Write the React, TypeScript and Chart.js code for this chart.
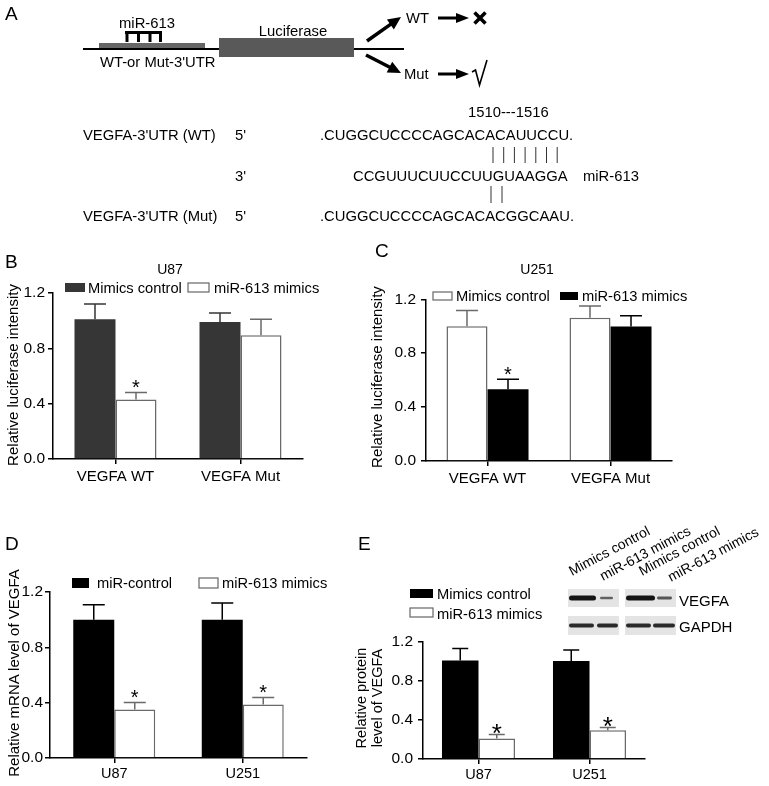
import React, { useEffect, useRef } from 'react';
import { Chart, registerables } from 'chart.js';

Chart.register(...registerables);

const FONT = "'Liberation Sans', Arial, Helvetica, sans-serif";

// ---------- Data ----------
// Panel B (U87 luciferase)
const bCategories = ['VEGFA WT', 'VEGFA Mut'];
const bSeriesNames = ['Mimics control', 'miR-613 mimics'];
const bControlValues = [1.01, 0.99];
const bControlErrors = [0.11, 0.065];
const bMimicsValues = [0.43, 0.895];
const bMimicsErrors = [0.05, 0.115];
const bMimicsMarks = ['*', ''];
const bTitle = 'U87';

// Panel C (U251 luciferase)
const cCategories = ['VEGFA WT', 'VEGFA Mut'];
const cSeriesNames = ['Mimics control', 'miR-613 mimics'];
const cControlValues = [1.0, 1.063];
const cControlErrors = [0.117, 0.088];
const cMimicsValues = [0.532, 0.999];
const cMimicsErrors = [0.074, 0.078];
const cMimicsMarks = ['*', ''];
const cTitle = 'U251';

const luciferaseYTitle = 'Relative luciferase intensity';

// Panel D (mRNA)
const dCategories = ['U87', 'U251'];
const dSeriesNames = ['miR-control', 'miR-613 mimics'];
const dControlValues = [1.0, 1.0];
const dControlErrors = [0.108, 0.12];
const dMimicsValues = [0.351, 0.387];
const dMimicsErrors = [0.051, 0.051];
const dMimicsMarks = ['*', '*'];
const dYTitle = 'Relative mRNA level of VEGFA';

// Panel E (protein)
const eCategories = ['U87', 'U251'];
const eSeriesNames = ['Mimics control', 'miR-613 mimics'];
const eControlValues = [1.005, 1.0];
const eControlErrors = [0.121, 0.112];
const eMimicsValues = [0.209, 0.292];
const eMimicsErrors = [0.04, 0.028];
const eMimicsMarks = ['*', '*'];
const eYTitle = ['Relative protein', 'level of VEGFA'];

const yTickValues = [0, 0.4, 0.8, 1.2];
const noMarks = ['', ''];

// Blot
const blotLanes = ['Mimics control', 'miR-613 mimics', 'Mimics control', 'miR-613 mimics'];
const blotRows = ['VEGFA', 'GAPDH'];
const vegfaBands = [1.0, 0.3, 1.0, 0.4];
const gapdhBands = [0.8, 0.8, 0.8, 0.8];

// Panel A sequences
const wtLabel = "VEGFA-3'UTR (WT)";
const mutLabel = "VEGFA-3'UTR (Mut)";
const wtSeq = '.CUGGCUCCCCAGCACACAUUCCU.';
const mirSeq = 'CCGUUUCUUCCUUGUAAGGA';
const mutSeq = '.CUGGCUCCCCAGCACACGGCAAU.';
const siteLabel = '1510---1516';

// ---------- Plugin ----------
const errorBarsPlugin = {
  id: 'errorBars',
  afterDatasetsDraw(chart: any, _a: any, opts: any) {
    const { ctx } = chart;
    const yScale = chart.scales.y;
    chart.data.datasets.forEach((ds: any, i: number) => {
      const meta = chart.getDatasetMeta(i);
      meta.data.forEach((bar: any, j: number) => {
        const v = ds.data[j];
        const e = ds.errors[j];
        const yTop = yScale.getPixelForValue(v + e);
        const x = bar.x;
        ctx.save();
        ctx.strokeStyle = ds.errorColor;
        ctx.lineWidth = 1.5;
        ctx.beginPath();
        ctx.moveTo(x, bar.y);
        ctx.lineTo(x, yTop);
        ctx.moveTo(x - opts.cap, yTop);
        ctx.lineTo(x + opts.cap, yTop);
        ctx.stroke();
        const m = ds.marks[j];
        if (m) {
          ctx.fillStyle = '#000';
          ctx.font = `${opts.starSize}px ${FONT}`;
          ctx.textAlign = 'center';
          ctx.textBaseline = 'alphabetic';
          ctx.fillText(m, x, yTop + opts.starDrop);
        }
        ctx.restore();
      });
    });
  },
};

type Series = {
  name: string;
  values: number[];
  errors: number[];
  marks: string[];
  fill: string;
  border: string;
  borderWidth: number;
  errColor: string;
};

type BarProps = {
  left: number;
  top: number;
  width: number;
  height: number;
  padTop: number;
  padRight: number;
  yAxisWidth: number;
  xAxisHeight: number;
  categories: string[];
  series: Series[];
  catPct: number;
  yTickPad: number;
  xTickPad: number;
  cap: number;
  starSize: number;
  starDrop: number;
  xFont: number;
};

function BarChart(p: BarProps) {
  const ref = useRef<HTMLCanvasElement>(null);
  useEffect(() => {
    const axisGrid = {
      display: true,
      drawOnChartArea: false,
      drawTicks: true,
      tickLength: 5,
      color: '#000',
      lineWidth: 1.5,
    };
    const chart = new Chart(ref.current as HTMLCanvasElement, {
      type: 'bar',
      data: {
        labels: p.categories,
        datasets: p.series.map((s) => ({
          label: s.name,
          data: s.values,
          errors: s.errors,
          marks: s.marks,
          errorColor: s.errColor,
          backgroundColor: s.fill,
          borderColor: s.border,
          borderWidth: s.borderWidth,
          categoryPercentage: p.catPct,
          barPercentage: 1.0,
        })) as any,
      },
      options: {
        animation: false,
        responsive: false,
        maintainAspectRatio: false,
        layout: { padding: { left: 0, top: p.padTop, right: p.padRight, bottom: 0 } },
        plugins: {
          legend: { display: false },
          tooltip: { enabled: false },
          title: { display: false },
          errorBars: { cap: p.cap, starSize: p.starSize, starDrop: p.starDrop },
        } as any,
        scales: {
          x: {
            type: 'category',
            offset: true,
            grid: { ...axisGrid, offset: false },
            border: { display: true, color: '#000', width: 1.5 },
            ticks: {
              color: '#000',
              font: { family: FONT, size: p.xFont },
              padding: p.xTickPad,
              maxRotation: 0,
              autoSkip: false,
            },
            afterFit: (s: any) => {
              s.height = p.xAxisHeight;
            },
          },
          y: {
            min: 0,
            max: 1.2,
            afterBuildTicks: (s: any) => {
              s.ticks = yTickValues.map((v) => ({ value: v }));
            },
            grid: axisGrid,
            border: { display: true, color: '#000', width: 1.5 },
            ticks: {
              color: '#000',
              font: { family: FONT, size: 15.5 },
              padding: p.yTickPad,
              callback: (v: any) => Number(v).toFixed(1),
            },
            afterFit: (s: any) => {
              s.width = p.yAxisWidth;
            },
          },
        } as any,
      },
      plugins: [errorBarsPlugin as any],
    });
    return () => chart.destroy();
  }, []);
  return (
    <canvas
      ref={ref}
      width={p.width}
      height={p.height}
      style={{ position: 'absolute', left: p.left, top: p.top, width: p.width, height: p.height }}
    />
  );
}

// ---------- SVG helpers ----------
function Arrow({ x1, y1, x2, y2, head, half, w }: any) {
  const dx = x2 - x1;
  const dy = y2 - y1;
  const L = Math.hypot(dx, dy);
  const ux = dx / L;
  const uy = dy / L;
  const bx = x2 - ux * head;
  const by = y2 - uy * head;
  const px = -uy;
  const py = ux;
  return (
    <g>
      <line x1={x1} y1={y1} x2={bx + ux} y2={by + uy} stroke="#000" strokeWidth={w} />
      <polygon
        points={`${x2},${y2} ${bx + px * half},${by + py * half} ${bx - px * half},${by - py * half}`}
        fill="#000"
      />
    </g>
  );
}

function T({ x, y, children, size = 14.7, anchor = 'start', weight = 'normal' }: any) {
  return (
    <text x={x} y={y} fontSize={size} textAnchor={anchor} dominantBaseline="central" fontWeight={weight}>
      {children}
    </text>
  );
}

function LegendBox({ x, y, w, h, fill }: any) {
  const white = fill === '#fff';
  return (
    <rect
      x={x}
      y={y}
      width={w}
      height={h}
      fill={fill}
      stroke={white ? '#666' : 'none'}
      strokeWidth={white ? 1.2 : 0}
    />
  );
}

const DARK_B = '#363636';
const GRAY_BORDER = '#6a6a6a';

export default function App() {
  const bSeries: Series[] = [
    { name: bSeriesNames[0], values: bControlValues, errors: bControlErrors, marks: noMarks, fill: DARK_B, border: DARK_B, borderWidth: 0, errColor: DARK_B },
    { name: bSeriesNames[1], values: bMimicsValues, errors: bMimicsErrors, marks: bMimicsMarks, fill: '#fff', border: GRAY_BORDER, borderWidth: 1.5, errColor: GRAY_BORDER },
  ];
  const cSeries: Series[] = [
    { name: cSeriesNames[0], values: cControlValues, errors: cControlErrors, marks: noMarks, fill: '#fff', border: GRAY_BORDER, borderWidth: 1.5, errColor: GRAY_BORDER },
    { name: cSeriesNames[1], values: cMimicsValues, errors: cMimicsErrors, marks: cMimicsMarks, fill: '#000', border: '#000', borderWidth: 0, errColor: '#000' },
  ];
  const dSeries: Series[] = [
    { name: dSeriesNames[0], values: dControlValues, errors: dControlErrors, marks: noMarks, fill: '#000', border: '#000', borderWidth: 0, errColor: '#000' },
    { name: dSeriesNames[1], values: dMimicsValues, errors: dMimicsErrors, marks: dMimicsMarks, fill: '#fff', border: GRAY_BORDER, borderWidth: 1.5, errColor: GRAY_BORDER },
  ];
  const eSeries: Series[] = [
    { name: eSeriesNames[0], values: eControlValues, errors: eControlErrors, marks: noMarks, fill: '#000', border: '#000', borderWidth: 0, errColor: '#000' },
    { name: eSeriesNames[1], values: eMimicsValues, errors: eMimicsErrors, marks: eMimicsMarks, fill: '#fff', border: GRAY_BORDER, borderWidth: 1.5, errColor: GRAY_BORDER },
  ];

  const blotLaneX = [[569, 596], [600, 613], [626, 655], [657, 672]];
  const gapdhLaneX = [[569, 594], [597, 618], [626, 651], [653, 675]];
  const laneLabelPos = [[572, 576], [603, 581], [642, 576], [671, 582]];

  return (
    <div style={{ position: 'absolute', left: 0, top: 0, width: 769, height: 786, background: '#fff', overflow: 'hidden' }}>
      <BarChart
        left={3} top={280} width={305} height={209} padTop={13} padRight={5}
        yAxisWidth={50} xAxisHeight={30} categories={bCategories} series={bSeries}
        catPct={0.656} yTickPad={3} xTickPad={4} cap={11} starSize={20} starDrop={1.5} xFont={15}
      />
      <BarChart
        left={367} top={285} width={310} height={206} padTop={13} padRight={5}
        yAxisWidth={59} xAxisHeight={30} categories={cCategories} series={cSeries}
        catPct={0.667} yTickPad={5} xTickPad={4} cap={11} starSize={20} starDrop={1.5} xFont={15}
      />
      <BarChart
        left={4} top={579} width={308} height={204} padTop={13} padRight={5}
        yAxisWidth={46} xAxisHeight={25} categories={dCategories} series={dSeries}
        catPct={0.638} yTickPad={2} xTickPad={2} cap={11} starSize={20} starDrop={1.5} xFont={14.5}
      />
      <BarChart
        left={353} top={627} width={297} height={157} padTop={13} padRight={5}
        yAxisWidth={70} xAxisHeight={25} categories={eCategories} series={eSeries}
        catPct={0.658} yTickPad={5} xTickPad={2} cap={8} starSize={26} starDrop={7} xFont={14.5}
      />

      <svg
        width={769}
        height={786}
        style={{ position: 'absolute', left: 0, top: 0, pointerEvents: 'none' }}
        fontFamily={FONT}
        fill="#000"
      >
        {/* Panel letters */}
        <T x={5} y={13} size={19}>A</T>
        <T x={5} y={261} size={19}>B</T>
        <T x={375} y={250} size={19}>C</T>
        <T x={5} y={543} size={19}>D</T>
        <T x={358} y={543} size={19}>E</T>

        {/* Panel A construct */}
        <T x={147} y={23} size={14.8} anchor="middle">miR-613</T>
        <line x1={125} y1={32.5} x2={162} y2={32.5} stroke="#000" strokeWidth={3} />
        {[127, 138.5, 150, 160.5].map((x) => (
          <line key={x} x1={x} y1={32} x2={x} y2={42} stroke="#000" strokeWidth={3} />
        ))}
        <rect x={99} y={43} width={106} height={5} fill="#666" />
        <line x1={83} y1={49} x2={404} y2={49} stroke="#000" strokeWidth={2} />
        <rect x={219} y={38} width={135} height={19} fill="#595959" />
        <T x={293} y={31} size={14.8} anchor="middle">Luciferase</T>
        <T x={100} y={61.5} size={14.8}>WT-or Mut-3'UTR</T>
        <Arrow x1={367} y1={41} x2={401} y2={17} head={13} half={6} w={3.5} />
        <Arrow x1={366} y1={55} x2={401} y2={73} head={13} half={6} w={3.5} />
        <T x={406} y={18} size={14.8}>WT</T>
        <T x={404} y={74} size={14.8}>Mut</T>
        <Arrow x1={438} y1={18} x2={469} y2={18} head={13} half={5} w={3} />
        <Arrow x1={438} y1={74} x2={469} y2={74} head={13} half={5} w={3} />
        <line x1={474.5} y1={12.5} x2={485.5} y2={23.5} stroke="#000" strokeWidth={3.5} />
        <line x1={485.5} y1={12.5} x2={474.5} y2={23.5} stroke="#000" strokeWidth={3.5} />
        <path d="M472 72 L475.5 70 L479.5 85 L487 60" stroke="#000" strokeWidth={1.6} fill="none" />

        {/* Panel A sequences */}
        <T x={468} y={112} size={14.8}>{siteLabel}</T>
        <T x={83} y={135} size={14.8}>{wtLabel}</T>
        <T x={235} y={135} size={14.8}>5'</T>
        <T x={320} y={135} size={14.8}>{wtSeq}</T>
        {[0, 1, 2, 3, 4, 5, 6].map((i) => (
          <line key={i} x1={493 + i * 10.7} y1={147} x2={493 + i * 10.7} y2={163} stroke="#333" strokeWidth={1} />
        ))}
        <T x={235} y={176} size={14.8}>3'</T>
        <T x={353} y={176} size={14.8}>{mirSeq}</T>
        <T x={583} y={176} size={14.8}>miR-613</T>
        {[491, 502].map((x) => (
          <line key={x} x1={x} y1={186} x2={x} y2={203} stroke="#333" strokeWidth={1} />
        ))}
        <T x={83} y={216} size={14.8}>{mutLabel}</T>
        <T x={235} y={216} size={14.8}>5'</T>
        <T x={320} y={216} size={14.8}>{mutSeq}</T>

        {/* Panel B titles / legend */}
        <T x={170} y={269} size={14} anchor="middle">{bTitle}</T>
        <LegendBox x={65} y={283} w={20} h={9} fill={DARK_B} />
        <T x={88} y={287.5}>{bSeriesNames[0]}</T>
        <LegendBox x={188} y={283} w={21} h={9} fill="#fff" />
        <T x={214} y={287.5}>{bSeriesNames[1]}</T>
        <text x={12} y={375} fontSize={15} textAnchor="middle" dominantBaseline="central" transform="rotate(-90 12 375)">
          {luciferaseYTitle}
        </text>

        {/* Panel C titles / legend */}
        <T x={537} y={269} size={14} anchor="middle">{cTitle}</T>
        <LegendBox x={433} y={292} w={19} h={8} fill="#fff" />
        <T x={456} y={296}>{cSeriesNames[0]}</T>
        <LegendBox x={560} y={292} w={18} h={8} fill="#000" />
        <T x={582} y={296}>{cSeriesNames[1]}</T>
        <text x={376} y={377} fontSize={15} textAnchor="middle" dominantBaseline="central" transform="rotate(-90 376 377)">
          {luciferaseYTitle}
        </text>

        {/* Panel D legend / title */}
        <LegendBox x={72} y={578} w={17} h={10} fill="#000" />
        <T x={97} y={583}>{dSeriesNames[0]}</T>
        <LegendBox x={199} y={578} w={19} h={10} fill="#fff" />
        <T x={222} y={583}>{dSeriesNames[1]}</T>
        <text x={13} y={673} fontSize={15} textAnchor="middle" dominantBaseline="central" transform="rotate(-90 13 673)">
          {dYTitle}
        </text>

        {/* Panel E legend / title */}
        <LegendBox x={410} y={589} w={23} h={9} fill="#000" />
        <T x={437} y={593.5}>{eSeriesNames[0]}</T>
        <LegendBox x={410} y={608} w={23} h={9} fill="#fff" />
        <T x={437} y={614}>{eSeriesNames[1]}</T>
        <text x={361} y={698} fontSize={14.5} textAnchor="middle" dominantBaseline="central" transform="rotate(-90 361 698)">
          {eYTitle[0]}
        </text>
        <text x={377} y={698} fontSize={14.5} textAnchor="middle" dominantBaseline="central" transform="rotate(-90 377 698)">
          {eYTitle[1]}
        </text>

        {/* Blot */}
        <rect x={568} y={589} width={51} height={18} fill="#e4e4e4" />
        <rect x={625} y={589} width={51} height={18} fill="#e4e4e4" />
        <rect x={568} y={616} width={51} height={19} fill="#e4e4e4" />
        <rect x={625} y={616} width={51} height={19} fill="#e4e4e4" />
        {vegfaBands.map((v, i) => {
          const h = 1.5 + 3.5 * v;
          const g = Math.round(130 - 110 * v);
          return (
            <rect key={'v' + i} x={blotLaneX[i][0]} y={598 - h / 2} width={blotLaneX[i][1] - blotLaneX[i][0]} height={h} rx={h / 2}
              fill={`rgb(${g},${g},${g})`} />
          );
        })}
        {gapdhBands.map((v, i) => {
          const h = 1.5 + 3.0 * v;
          const g = Math.round(130 - 110 * v);
          return (
            <rect key={'g' + i} x={gapdhLaneX[i][0]} y={625.5 - h / 2} width={gapdhLaneX[i][1] - gapdhLaneX[i][0]} height={h} rx={h / 2}
              fill={`rgb(${g},${g},${g})`} />
          );
        })}
        <T x={679} y={600} size={15}>{blotRows[0]}</T>
        <T x={679} y={626} size={15}>{blotRows[1]}</T>
        {blotLanes.map((lab, i) => (
          <text key={'l' + i} x={laneLabelPos[i][0]} y={laneLabelPos[i][1]} fontSize={14}
            transform={`rotate(-28 ${laneLabelPos[i][0]} ${laneLabelPos[i][1]})`}>
            {lab}
          </text>
        ))}
      </svg>
    </div>
  );
}
